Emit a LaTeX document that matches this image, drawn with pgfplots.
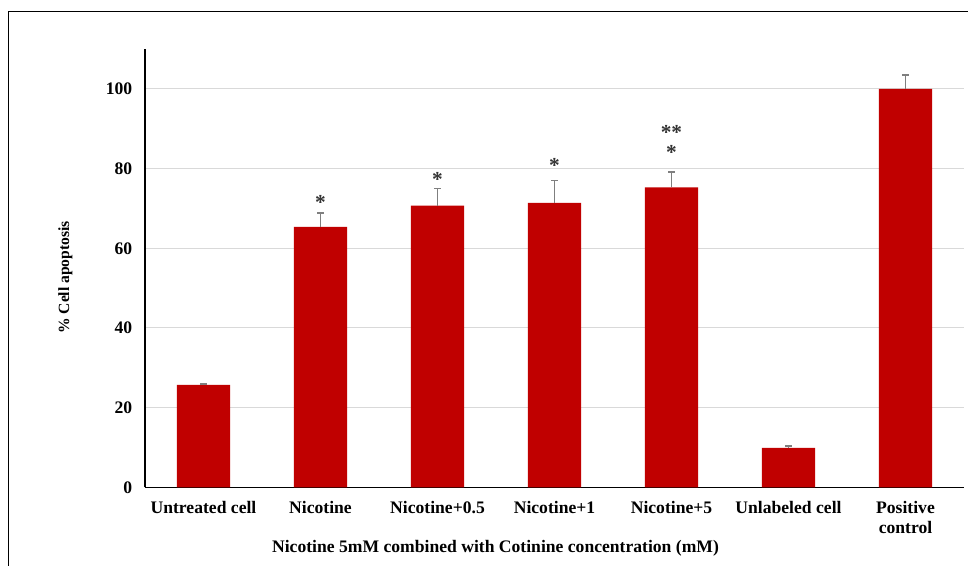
\documentclass[border=0pt]{standalone}
\usepackage{fontspec}
\setmainfont{Liberation Serif}
\usepackage{pgfplots}
\pgfplotsset{compat=1.18}
\definecolor{barred}{HTML}{C00000}
\definecolor{gridc}{HTML}{D9D9D9}
\definecolor{errc}{HTML}{7F7F7F}
\definecolor{starc}{HTML}{333333}
\pgfplotstableread{
x y e
0 25.7 0.3
1 65.4 3.5
2 70.7 4.3
3 71.4 5.6
4 75.3 3.9
5 9.9 0.4
6 100 3.5
}\datatable
\begin{document}
\begin{tikzpicture}
\useasboundingbox (0,0) rectangle (726pt,-424.5pt);
\draw[line width=0.9pt, black] (6.4pt,-430pt) -- (6.4pt,-8.6pt) -- (730pt,-8.6pt);
\begin{axis}[
  at={(108.75pt,-365.5pt)}, anchor=south west,
  scale only axis, width=614.25pt, height=328.7pt,
  xmin=-0.5, xmax=6.5, ymin=0, ymax=110,
  ytick={0,20,...,100},
  xtick={0,...,6},
  xticklabels={Untreated cell,Nicotine,Nicotine+0.5,Nicotine+1,Nicotine+5,Unlabeled cell,{Positive\\control}},
  xticklabel style={align=center, yshift=-7pt},
  yticklabel style={xshift=-6pt},
  ticklabel style={font=\fontsize{13.2}{15}\selectfont\bfseries},
  /pgf/number format/assume math mode=true,
  major tick length=0pt,
  ymajorgrids, grid style={gridc, line width=0.75pt},
  axis lines*=left,
  axis line style={-, black, line width=0.9pt},
  ylabel={\% Cell apoptosis},
  xlabel={Nicotine 5mM combined with Cotinine concentration (mM)},
  xlabel style={font=\fontsize{13.2}{15}\selectfont\bfseries, at={(rel axis cs:0.428,-0.1385)}, anchor=center},
  ylabel style={font=\fontsize{11.7}{14}\selectfont\bfseries, at={(rel axis cs:-0.0971,0.479)}, anchor=center, rotate=0},
  clip=false,
]
\addplot[ybar, bar width=40pt, fill=barred, draw=none,
  error bars/.cd, y dir=plus, y explicit,
  error bar style={errc, line width=1.3pt},
  error mark options={errc, rotate=90, mark size=2.5pt, line width=1.3pt}]
  table[x=x, y=y, y error=e]{\datatable};
\begin{scope}[every node/.style={anchor=base, text=starc, font=\fontsize{16}{16}\selectfont\bfseries, inner sep=0pt}]
\node at (axis cs:1,69.8) {*};
\node at (axis cs:2,75.6) {*};
\node at (axis cs:3,78.9) {*};
\node at (axis cs:4,82.4) {*};
\node at (axis cs:4,87.3) {**};
\end{scope}
\end{axis}
\end{tikzpicture}
\end{document}
